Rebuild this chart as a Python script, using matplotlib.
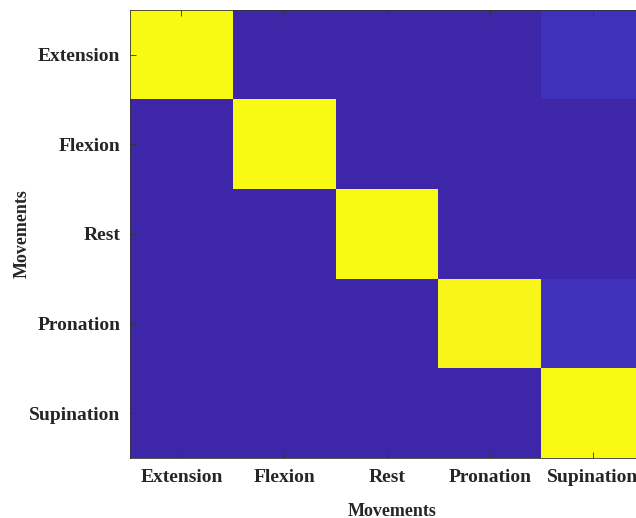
import numpy as np
import matplotlib
matplotlib.use("Agg")
import matplotlib.pyplot as plt
from matplotlib.colors import LinearSegmentedColormap

movements = ["Extension", "Flexion", "Rest", "Pronation", "Supination"]

row_extension = [1.00, 0.00, 0.00, 0.00, 0.035]
row_flexion = [0.00, 1.00, 0.00, 0.00, 0.00]
row_rest = [0.00, 0.00, 1.00, 0.00, 0.005]
row_pronation = [0.00, 0.00, 0.00, 0.965, 0.035]
row_supination = [0.00, 0.00, 0.00, 0.00, 1.00]

# old MATLAB parula, rough anchors
parula = LinearSegmentedColormap.from_list("parula", [
    (0.000, (0.2422, 0.1504, 0.6603)),
    (0.125, (0.2810, 0.3228, 0.9579)),
    (0.250, (0.1786, 0.5289, 0.9682)),
    (0.375, (0.0689, 0.6948, 0.8394)),
    (0.500, (0.2161, 0.7843, 0.5923)),
    (0.625, (0.6720, 0.7793, 0.2227)),
    (0.750, (0.9970, 0.7659, 0.2199)),
    (0.875, (0.9598, 0.9106, 0.1423)),
    (1.000, (0.9769, 0.9839, 0.0805)),
])

plt.rcParams["font.family"] = ["Liberation Serif", "DejaVu Serif"]
plt.rcParams["font.weight"] = "bold"

matrix = np.array([row_extension, row_flexion, row_rest, row_pronation, row_supination])

fig = plt.figure(figsize=(6.36, 5.18), dpi=100)
ax = fig.add_axes([130 / 636, 1 - 458 / 518, 514 / 636, 448 / 518])
ax.imshow(matrix, cmap=parula, vmin=0, vmax=1, aspect="auto", interpolation="nearest")

ax.set_xticks(range(len(movements)))
ax.set_yticks(range(len(movements)))
ax.set_xticklabels(movements, fontsize=14, fontweight="bold", color="#262626")
ax.set_yticklabels(movements, fontsize=14, fontweight="bold", color="#262626")
ax.tick_params(axis="x", pad=8)
ax.tick_params(axis="y", pad=7)
ax.tick_params(direction="in", length=4, width=0.6, color="#333333",
               top=True, right=True)
ax.set_xlabel("Movements", fontsize=13, fontweight="bold", color="#262626", va="center")
ax.set_ylabel("Movements", fontsize=13, fontweight="bold", color="#262626", va="center")
ax.xaxis.set_label_coords(0.51, -0.1205)
ax.yaxis.set_label_coords(-0.21, 0.5)
for s in ax.spines.values():
    s.set_color("#333333")
    s.set_linewidth(0.6)

fig.savefig("out.png", dpi=100)
